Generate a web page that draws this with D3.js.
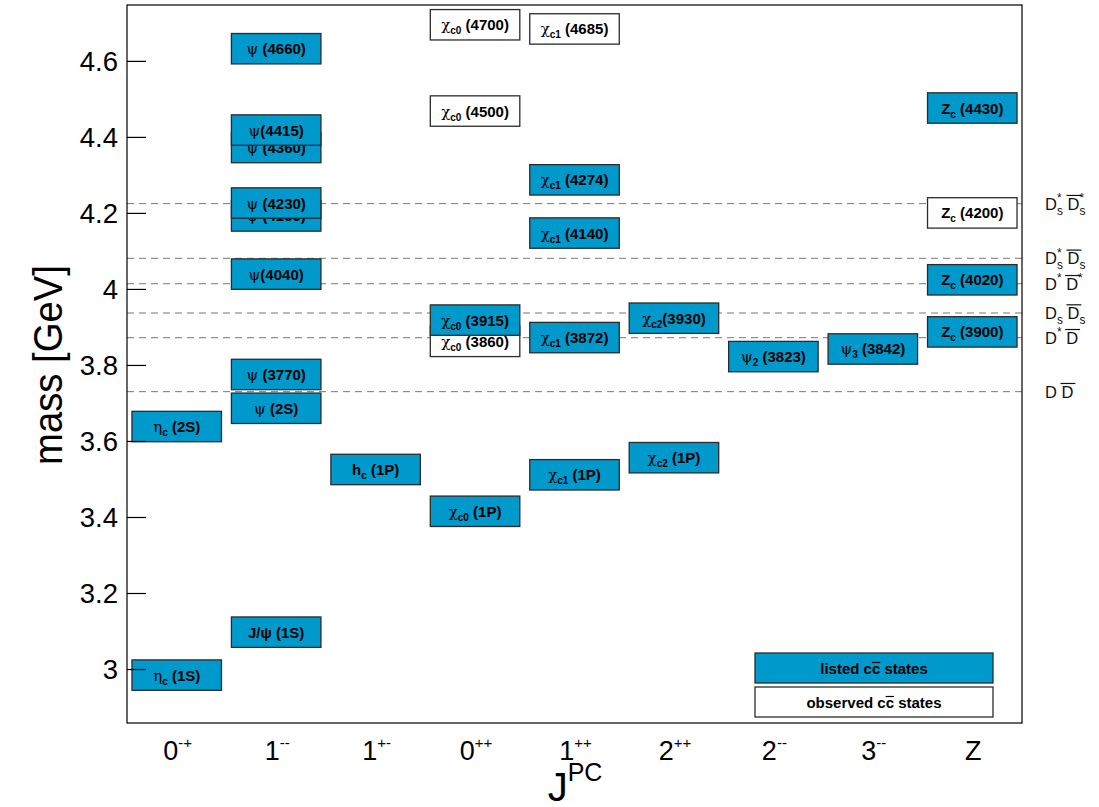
<!DOCTYPE html>
<html>
<head>
<meta charset="utf-8">
<script src="https://cdn.jsdelivr.net/npm/d3@7"></script>
<style>
  html, body { margin: 0; padding: 0; background: #fff; }
  svg { display: block; font-family: "Liberation Sans", Arial, Helvetica, sans-serif; }
</style>
</head>
<body>
<svg id="chart" width="1099" height="807"></svg>
<script>
// J^PC columns along the x axis: [base, superscript]
const columns = ["0-+", "1--", "1+-", "0++", "1++", "2++", "2--", "3--", "Z"];
const columnBase = ["0", "1", "1", "0", "1", "2", "2", "3", "Z"];
const columnSup = ["-+", "--", "+-", "++", "++", "++", "--", "--", ""];

// Charmonium(-like) states, in drawing order (later boxes sit on top)
const stateColumn = ["0-+", "0-+",
  "1--", "1--", "1--", "1--", "1--", "1--", "1--", "1--", "1--",
  "1+-",
  "0++", "0++", "0++", "0++", "0++",
  "1++", "1++", "1++", "1++", "1++",
  "2++", "2++",
  "2--", "3--",
  "Z", "Z", "Z", "Z"];
// label parts: symbol, subscript, rest
const stateSymbol = ["η", "η",
  "J/ψ", "ψ", "ψ", "ψ", "ψ", "ψ", "ψ", "ψ", "ψ",
  "h",
  "χ", "χ", "χ", "χ", "χ",
  "χ", "χ", "χ", "χ", "χ",
  "χ", "χ",
  "ψ", "ψ",
  "Z", "Z", "Z", "Z"];
const stateSub = ["c", "c",
  "", "", "", "", "", "", "", "", "",
  "c",
  "c0", "c0", "c0", "c0", "c0",
  "c1", "c1", "c1", "c1", "c1",
  "c2", "c2",
  "2", "3",
  "c", "c", "c", "c"];
const stateRest = [" (1S)", " (2S)",
  " (1S)", " (2S)", " (3770)", "(4040)", " (4160)", " (4230)", " (4360)", "(4415)", " (4660)",
  " (1P)",
  " (1P)", " (3860)", " (3915)", " (4500)", " (4700)",
  " (1P)", " (3872)", " (4140)", " (4274)", " (4685)",
  " (1P)", "(3930)",
  " (3823)", " (3842)",
  " (3900)", " (4020)", " (4200)", " (4430)"];
const stateMass = [2.984, 3.638,
  3.097, 3.686, 3.775, 4.039, 4.192, 4.226, 4.372, 4.418, 4.632,
  3.525,
  3.415, 3.862, 3.918, 4.468, 4.695,
  3.511, 3.872, 4.147, 4.287, 4.684,
  3.556, 3.923,
  3.822, 3.842,
  3.887, 4.024, 4.200, 4.476];
const stateListed = [true, true,
  true, true, true, true, true, true, true, true, true,
  true,
  true, false, true, false, false,
  true, true, true, true, false,
  true, true,
  true, true,
  true, true, false, true];

// Open-charm thresholds
const thresholdMass = [3.7297, 3.8717, 3.9367, 4.0137, 4.0806, 4.2244];
// label pieces: t text, s shift ("sub"/"sup"), stack (placed over the preceding piece), bar (overline)
const thresholdLabel = [
  [{t: "D"}, {t: " "}, {t: "D", bar: true}],
  [{t: "D"}, {t: "*", s: "sup"}, {t: " "}, {t: "D", bar: true}],
  [{t: "D"}, {t: "s", s: "sub"}, {t: " "}, {t: "D", bar: true}, {t: "s", s: "sub"}],
  [{t: "D"}, {t: "*", s: "sup"}, {t: " "}, {t: "D", bar: true}, {t: "*", s: "sup"}],
  [{t: "D"}, {t: "s", s: "sub"}, {t: "*", s: "sup", stack: true}, {t: " "}, {t: "D", bar: true}, {t: "s", s: "sub"}],
  [{t: "D"}, {t: "s", s: "sub"}, {t: "*", s: "sup", stack: true}, {t: " "}, {t: "D", bar: true}, {t: "s", s: "sub"}, {t: "*", s: "sup", stack: true}]
];

const yTicks = [3.0, 3.2, 3.4, 3.6, 3.8, 4.0, 4.2, 4.4, 4.6];
const legendLabels = ["listed cc states", "observed cc states"];

const BLUE = "#0099cc";
const EDGE = "#2b2b2b";

const svg = d3.select("#chart");
const frame = {left: 127, right: 1022, top: 5, bottom: 723};

const y = d3.scaleLinear().domain([2.858, 4.747]).range([frame.bottom, frame.top]);
const x = d3.scaleBand().domain(columns).range([frame.left, frame.right]).padding(0);
const boxW = x.bandwidth() * 0.9;
const halfH = 0.04; // GeV

// threshold lines
svg.append("g").selectAll("line").data(thresholdMass).join("line")
  .attr("x1", frame.left).attr("x2", frame.right)
  .attr("y1", d => y(d)).attr("y2", d => y(d))
  .attr("stroke", "#777").attr("stroke-width", 1).attr("stroke-dasharray", "7,5");

// threshold labels laid out piece by piece
function layoutPieces(g, pieces, x0, baseline, size) {
  let cx = x0, lastStart = x0;
  pieces.forEach(p => {
    const fs = p.s ? size * 0.72 : size;
    const dy = p.s === "sub" ? size * 0.3 : p.s === "sup" ? -size * 0.45 : 0;
    const startX = p.stack ? lastStart : cx;
    const tx = g.append("text").attr("x", startX).attr("y", baseline + dy)
      .attr("font-size", fs).attr("fill", "#111").style("white-space", "pre").text(p.t);
    const w = tx.node().getComputedTextLength();
    if (p.bar) {
      g.append("line").attr("x1", startX - 1).attr("x2", startX + w + 2)
        .attr("y1", baseline - size * 0.86).attr("y2", baseline - size * 0.86)
        .attr("stroke", "#111").attr("stroke-width", 1.2);
    }
    if (!p.stack) lastStart = startX;
    cx = Math.max(cx, startX + w);
  });
}
const thrG = svg.append("g");
thresholdMass.forEach((m, i) => {
  layoutPieces(thrG.append("g"), thresholdLabel[i], 1045, y(m) + 6, 16.5);
});

// state boxes
const boxes = svg.append("g").selectAll("g").data(stateMass.map((m, i) => i)).join("g");
boxes.append("rect")
  .attr("x", i => x(stateColumn[i]) + (x.bandwidth() - boxW) / 2)
  .attr("y", i => y(stateMass[i] + halfH))
  .attr("width", boxW)
  .attr("height", i => y(stateMass[i] - halfH) - y(stateMass[i] + halfH))
  .attr("fill", i => stateListed[i] ? BLUE : "#fff")
  .attr("stroke", EDGE).attr("stroke-width", 1.3);
const lbl = boxes.append("text")
  .attr("x", i => x(stateColumn[i]) + x.bandwidth() / 2)
  .attr("y", i => y(stateMass[i]) + 5.5)
  .attr("text-anchor", "middle")
  .attr("font-size", 15).attr("fill", "#000")
  .style("white-space", "pre");
lbl.append("tspan")
  .attr("font-weight", i => /^[ηψχ]$/.test(stateSymbol[i]) ? "normal" : "bold")
  .attr("font-family", i => /^[ηψχ]$/.test(stateSymbol[i]) ? "'DejaVu Serif', serif" : null)
  .text(i => stateSymbol[i]);
lbl.append("tspan")
  .attr("font-weight", "bold").attr("font-size", 10).attr("dy", 4)
  .text(i => stateSub[i]);
lbl.append("tspan")
  .attr("font-weight", "bold").attr("dy", i => stateSub[i] ? -4 : 0)
  .text(i => stateRest[i]);

// frame
svg.append("rect")
  .attr("x", frame.left).attr("y", frame.top)
  .attr("width", frame.right - frame.left).attr("height", frame.bottom - frame.top)
  .attr("fill", "none").attr("stroke", "#000").attr("stroke-width", 1.2);

// y axis: ticks pointing into the frame
const yAxis = d3.axisLeft(y).tickValues(yTicks).tickSizeInner(-19).tickSizeOuter(0)
  .tickPadding(28).tickFormat(d => d3.format("~g")(d));
const yg = svg.append("g").attr("transform", `translate(${frame.left},0)`).call(yAxis);
yg.select(".domain").remove();
yg.selectAll(".tick line").attr("stroke", "#000").attr("stroke-width", 1.2);
yg.selectAll(".tick text").attr("font-size", 27.5).attr("fill", "#000")
  .attr("font-family", "'Liberation Sans', Arial, sans-serif").attr("x", -9).attr("dy", "0.35em");

svg.append("text")
  .attr("transform", `translate(62,${(265 + 465) / 2}) rotate(-90)`)
  .attr("text-anchor", "middle").attr("font-size", 41).attr("fill", "#000")
  .attr("textLength", 200).attr("lengthAdjust", "spacingAndGlyphs")
  .text("mass [GeV]");

// x axis category labels
const xl = svg.append("g").selectAll("text").data(columns).join("text")
  .attr("x", d => x(d) + x.bandwidth() / 2 + 1)
  .attr("y", 760)
  .attr("text-anchor", "middle").attr("font-size", 27).attr("fill", "#000");
xl.append("tspan").text((d, i) => columnBase[i]);
xl.append("tspan").attr("font-size", 15).attr("dy", -12).text((d, i) => columnSup[i]);

const jpc = svg.append("text").attr("x", 575).attr("y", 801)
  .attr("text-anchor", "middle").attr("font-size", 40).attr("fill", "#000");
jpc.append("tspan").text("J");
jpc.append("tspan").attr("font-size", 25).attr("dy", -20).text("PC");

// legend, with the anti-quark c overlined
const legY = [653, 687];
const leg = svg.append("g").selectAll("g").data(legendLabels).join("g");
leg.append("rect")
  .attr("x", 755).attr("y", (d, i) => legY[i]).attr("width", 238).attr("height", 30)
  .attr("fill", (d, i) => i === 0 ? BLUE : "#fff").attr("stroke", EDGE).attr("stroke-width", 1.3);
leg.append("text")
  .attr("x", 874).attr("y", (d, i) => legY[i] + 21)
  .attr("text-anchor", "middle").attr("font-size", 15).attr("font-weight", "bold").attr("fill", "#000")
  .text(d => d)
  .each(function(d) {
    const idx = d.indexOf("cc") + 1;
    const s = this.getStartPositionOfChar(idx);
    const e = this.getEndPositionOfChar(idx);
    d3.select(this.parentNode).append("line")
      .attr("x1", s.x).attr("x2", e.x)
      .attr("y1", s.y - 11.5).attr("y2", s.y - 11.5)
      .attr("stroke", "#000").attr("stroke-width", 1.2);
  });
</script>
</body>
</html>
